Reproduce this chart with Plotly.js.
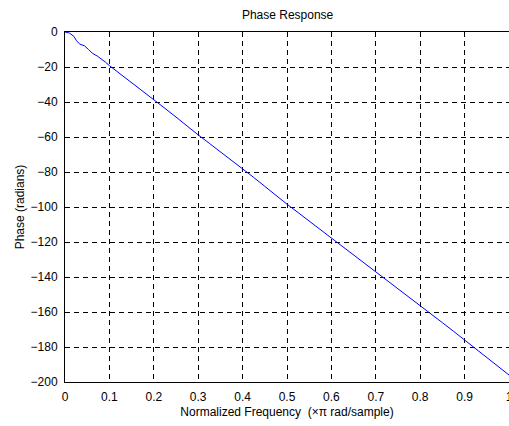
<!DOCTYPE html>
<html>
<head>
<meta charset="utf-8">
<script src="https://cdn.plot.ly/plotly-3.0.1.min.js"></script>
<style>
html,body{margin:0;padding:0;background:#fff;}
#chart{width:509px;height:426px;}
</style>
</head>
<body>
<div id="chart"></div>
<script>
// Normalized frequency (x pi rad/sample)
const freq = [0, 0.01, 0.02, 0.026, 0.033, 0.044, 0.053, 0.062, 0.073, 0.082, 0.091, 0.1,
  0.125, 0.15, 0.175, 0.2, 0.225, 0.25, 0.275, 0.3, 0.325, 0.35, 0.375, 0.4,
  0.425, 0.45, 0.475, 0.5, 0.525, 0.55, 0.575, 0.6, 0.625, 0.65, 0.675, 0.7,
  0.725, 0.75, 0.775, 0.8, 0.825, 0.85, 0.875, 0.9, 0.925, 0.95, 0.975, 1.0];
// Phase values
const phase = [0, -0.6, -2.5, -5, -6.9, -7.9, -10, -12.2, -13.8, -15.4, -17.2, -19.2,
  -24, -28.8, -33.6, -38.5, -43.6, -48.6, -53.8, -58.8, -63.6, -68.4, -73.2, -78,
  -83.1, -88.2, -93.4, -98.4, -103.2, -108, -112.8, -117.6, -122.5, -127.4, -132.2, -137,
  -141.8, -146.6, -151.4, -156.2, -161.2, -166.1, -171, -176, -181, -186, -191, -196];

const titleText = 'Phase Response';
const xTitle = 'Normalized Frequency  (\u00d7\u03c0 rad/sample)';
const yTitle = 'Phase (radians)';

const fontFam = '"Liberation Sans", Arial, sans-serif';

Plotly.newPlot('chart', [{
  x: freq, y: phase, type: 'scatter', mode: 'lines',
  line: {color: '#0000ff', width: 1}, hoverinfo: 'skip'
}], {
  width: 509, height: 426,
  margin: {l: 65, r: 0, t: 32, b: 44, pad: 0},
  paper_bgcolor: '#fff', plot_bgcolor: '#fff',
  showlegend: false,
  font: {family: fontFam, size: 12, color: '#000'},
  title: {text: titleText, font: {family: fontFam, size: 12, color: '#000'},
    x: 0.565, xanchor: 'center', y: 0.965, yanchor: 'middle'},
  xaxis: {
    range: [0, 1], dtick: 0.1, tick0: 0, autorange: false,
    showgrid: true, gridcolor: '#000', gridwidth: 1, griddash: '5px,4px',
    zeroline: false, showline: true, linecolor: '#000', linewidth: 1, mirror: true,
    ticks: '', ticklabelstandoff: 4, ticklabeloverflow: 'allow', automargin: false,
    tickfont: {family: fontFam, size: 12, color: '#000'},
    title: {text: xTitle, font: {family: fontFam, size: 12, color: '#000'}, standoff: 4}
  },
  yaxis: {
    range: [-200, 0], dtick: 20, tick0: 0, autorange: false,
    showgrid: true, gridcolor: '#000', gridwidth: 1, griddash: '5px,4px',
    zeroline: false, showline: true, linecolor: '#000', linewidth: 1, mirror: false,
    ticks: '', ticklabelstandoff: 4, ticklabeloverflow: 'allow', automargin: false,
    tickfont: {family: fontFam, size: 12, color: '#000'},
    title: {text: yTitle, font: {family: fontFam, size: 12, color: '#000'}, standoff: 3}
  }
}, {displayModeBar: false, staticPlot: true});
</script>
</body>
</html>
